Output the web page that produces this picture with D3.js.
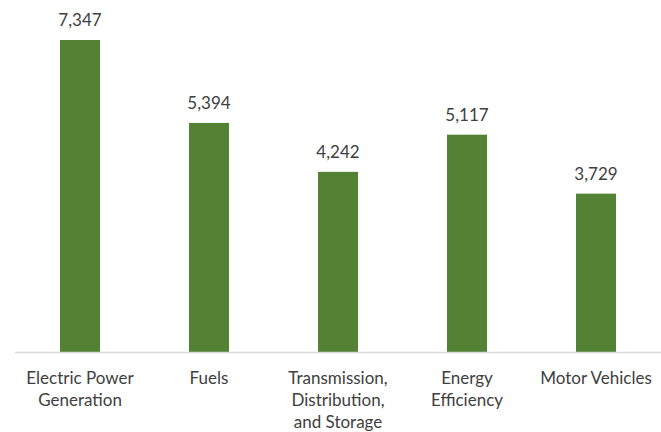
<!DOCTYPE html>
<html><head><meta charset="utf-8">
<script src="https://cdn.jsdelivr.net/npm/d3@7"></script>
<style>html,body{margin:0;padding:0;background:#fff;}</style>
</head><body>
<svg id="c" width="661" height="432"></svg>
<script>
const categories = ["Electric Power Generation", "Fuels", "Transmission, Distribution, and Storage", "Energy Efficiency", "Motor Vehicles"];
const categoryLines = [["Electric Power", "Generation"], ["Fuels"], ["Transmission,", "Distribution,", "and Storage"], ["Energy", "Efficiency"], ["Motor Vehicles"]];
const values = [7347, 5394, 4242, 5117, 3729];

const svg = d3.select("#c");
const baseY = 352;
const x = d3.scaleBand().domain(categories).range([15.5, 660.5]).paddingInner(0.69).paddingOuter(0.345);
const y = d3.scaleLinear().domain([0, 7347]).range([baseY, 40]);
const font = "Lato, 'Open Sans', sans-serif";

svg.selectAll("rect.bar").data(values).join("rect").attr("class", "bar")
  .attr("x", (d, i) => x(categories[i]))
  .attr("width", x.bandwidth())
  .attr("y", d => y(d))
  .attr("height", d => baseY - y(d))
  .attr("fill", "#548235");

svg.append("line").attr("x1", 15).attr("x2", 661).attr("y1", baseY + 0.5).attr("y2", baseY + 0.5)
  .attr("stroke", "#d9d9d9").attr("stroke-width", 1.5);

svg.selectAll("text.val").data(values).join("text").attr("class", "val")
  .attr("x", (d, i) => x(categories[i]) + x.bandwidth() / 2)
  .attr("y", d => y(d) - 14)
  .attr("text-anchor", "middle")
  .attr("font-family", font).attr("font-size", 17)
  .attr("fill", "#404040")
  .text(d => d3.format(",")(d));

const g = svg.selectAll("g.lab").data(categories).join("g").attr("class", "lab")
  .attr("transform", d => `translate(${x(d) + x.bandwidth() / 2},0)`);
g.each(function(d, i) {
  const t = d3.select(this).append("text").attr("text-anchor", "middle")
    .attr("font-family", font).attr("font-size", 17).attr("fill", "#404040");
  categoryLines[i].forEach((l, j) => t.append("tspan").attr("x", 0).attr("y", 384 + j * 22).text(l));
});
</script>
</body></html>
